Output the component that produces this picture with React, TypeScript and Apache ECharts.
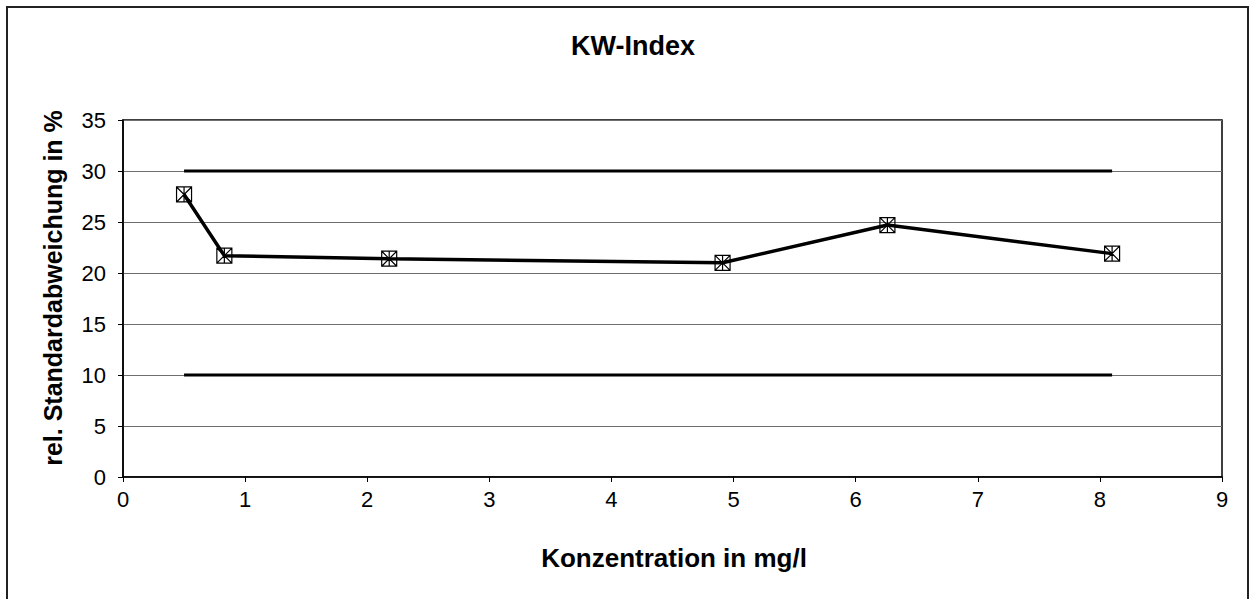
import React, { useEffect, useRef } from "react";
import * as echarts from "echarts";

// Konzentration (mg/l) and relative standard deviation (%)
const concentrations = [0.5, 0.83, 2.18, 4.91, 6.26, 8.1];
const relStdDev = [27.7, 21.7, 21.4, 21.0, 24.7, 21.9];

// Upper and lower tolerance limits (%)
const upperLimit = 30;
const lowerLimit = 10;

const xTicks = [0, 1, 2, 3, 4, 5, 6, 7, 8, 9];
const yTicks = [0, 5, 10, 15, 20, 25, 30, 35];

const chartTitle = "KW-Index";
const xTitle = "Konzentration in mg/l";
const yTitle = "rel. Standardabweichung in %";

// Square with both diagonals and a vertical centre bar
const markerPath =
  "path://M0 0 L14 0 L14 14 L0 14 Z M0 0 L14 14 M14 0 L0 14 M7 0 L7 14";

const FONT = "Liberation Sans, Arial, sans-serif";

export default function App() {
  const ref = useRef<HTMLDivElement>(null);

  useEffect(() => {
    document.body.style.margin = "0";
    if (!ref.current) return;
    const chart = echarts.init(ref.current, undefined, { renderer: "svg" });

    const points = concentrations.map((x, i) => [x, relStdDev[i]]);
    const xStart = concentrations[0];
    const xEnd = concentrations[concentrations.length - 1];

    chart.setOption({
      animation: false,
      backgroundColor: "#fff",
      title: {
        text: chartTitle,
        left: 628,
        top: 27,
        textAlign: "center",
        textStyle: { fontFamily: FONT, fontSize: 27, fontWeight: "bold", color: "#000" },
      },
      grid: {
        left: 123,
        top: 120,
        right: 31,
        bottom: 122,
        show: true,
        borderColor: "#000",
        borderWidth: 1.5,
        backgroundColor: "transparent",
      },
      xAxis: {
        type: "value",
        min: xTicks[0],
        max: xTicks[xTicks.length - 1],
        interval: 1,
        axisLine: { show: true, lineStyle: { color: "#000", width: 1.5 } },
        axisTick: { show: true, length: 5, lineStyle: { color: "#000", width: 1 } },
        axisLabel: { margin: 11, fontFamily: FONT, fontSize: 22, color: "#000" },
        splitLine: { show: false },
      },
      yAxis: {
        type: "value",
        min: yTicks[0],
        max: yTicks[yTicks.length - 1],
        interval: 5,
        axisLine: { show: true, lineStyle: { color: "#000", width: 1.5 } },
        axisTick: { show: true, length: 5, lineStyle: { color: "#000", width: 1 } },
        axisLabel: { margin: 17, fontFamily: FONT, fontSize: 22, color: "#000" },
        splitLine: { show: true, lineStyle: { color: "#6e6e6e", width: 1 } },
      },
      graphic: [
        {
          type: "rect",
          shape: { x: 7, y: 7, width: 1241, height: 620 },
          style: { fill: "none", stroke: "#222", lineWidth: 2 },
          silent: true,
        },
        {
          type: "text",
          x: 674,
          y: 558,
          style: {
            text: xTitle,
            fontFamily: FONT,
            fontSize: 26,
            fontWeight: "bold",
            fill: "#000",
            align: "center",
            verticalAlign: "middle",
          },
        },
        {
          type: "text",
          x: 53,
          y: 288,
          rotation: Math.PI / 2,
          style: {
            text: yTitle,
            fontFamily: FONT,
            fontSize: 25,
            fontWeight: "bold",
            fill: "#000",
            align: "center",
            verticalAlign: "middle",
          },
        },
      ],
      series: [
        {
          name: "Obergrenze",
          type: "line",
          data: [
            [xStart, upperLimit],
            [xEnd, upperLimit],
          ],
          symbol: "none",
          lineStyle: { color: "#000", width: 3 },
          z: 3,
        },
        {
          name: "Untergrenze",
          type: "line",
          data: [
            [xStart, lowerLimit],
            [xEnd, lowerLimit],
          ],
          symbol: "none",
          lineStyle: { color: "#000", width: 3 },
          z: 3,
        },
        {
          name: "KW-Index",
          type: "line",
          data: points,
          symbol: markerPath,
          symbolSize: 15,
          lineStyle: { color: "#000", width: 3.5 },
          itemStyle: { color: "rgba(255,255,255,0)", borderColor: "#000", borderWidth: 1.2 },
          z: 4,
        },
      ],
    });

    return () => chart.dispose();
  }, []);

  return <div ref={ref} style={{ width: 1253, height: 599 }} />;
}
